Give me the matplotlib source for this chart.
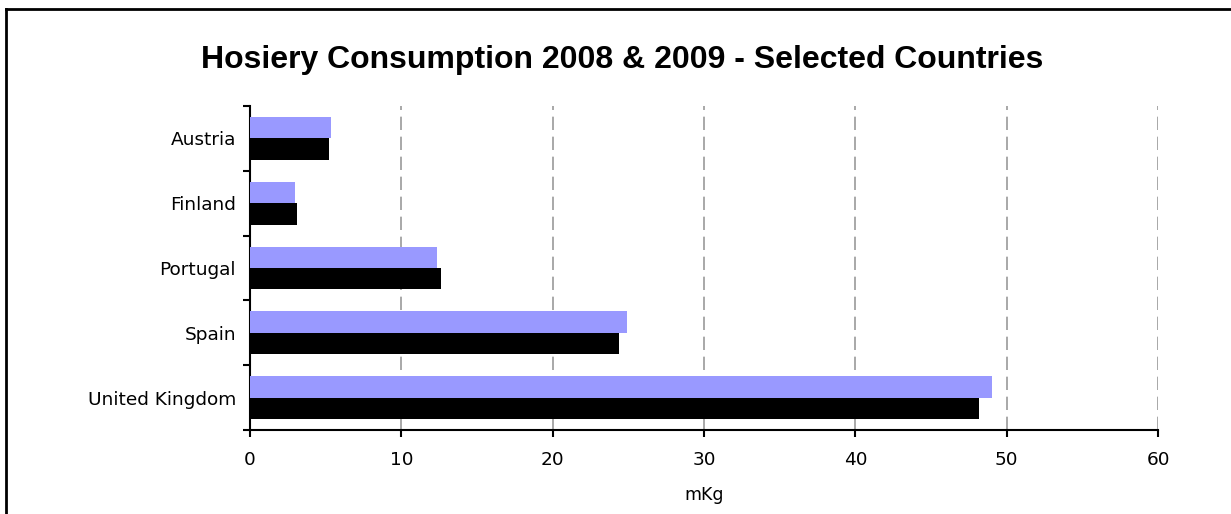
import matplotlib.pyplot as plt
import numpy as np

countries = ['Austria', 'Finland', 'Portugal', 'Spain', 'United Kingdom']
values_2009 = [5.35, 3.0, 12.35, 24.9, 49.0]   # light purple bars (top)
values_2008 = [5.2, 3.1, 12.6, 24.4, 48.2]     # black bars (bottom)

fig = plt.figure(figsize=(12.31, 5.14), dpi=100)
ax = fig.add_axes([250 / 1231, 1 - 430 / 514, 908 / 1231, 324 / 514])

y = np.arange(len(countries))
h = 0.33
ax.barh(y - h / 2, values_2009, height=h, color='#9999FF', zorder=3)
ax.barh(y + h / 2, values_2008, height=h, color='black', zorder=3)

ax.set_xlim(0, 60)
ax.set_ylim(len(countries) - 0.5, -0.5)
ax.set_xticks(range(0, 61, 10))
ax.set_yticks(y)
ax.set_yticklabels(countries)
ax.set_yticks(np.arange(-0.5, len(countries), 1), minor=True)
ax.tick_params(axis='y', which='major', length=0, pad=10, labelsize=13.3)
ax.tick_params(axis='y', which='minor', length=5, width=1.5, direction='out')
ax.tick_params(axis='x', length=5, width=1.5, direction='out', pad=10, labelsize=13.3)

ax.xaxis.grid(True, color='#999999', linestyle=(0, (8, 4)), linewidth=1.2, zorder=0)
for s in ['top', 'right']:
    ax.spines[s].set_visible(False)
for s in ['left', 'bottom']:
    ax.spines[s].set_linewidth(1.5)

ax.set_xlabel('mKg', fontsize=12.5, labelpad=12)
fig.text(622 / 1231, 1 - 60 / 514, 'Hosiery Consumption 2008 & 2009 - Selected Countries',
         ha='center', va='center', fontsize=23, fontweight='bold', family='Liberation Sans')

# outer chart frame (top and left edges visible only)
fig.add_artist(plt.Line2D([6 / 1231, 1], [1 - 9 / 514, 1 - 9 / 514], color='black', linewidth=2))
fig.add_artist(plt.Line2D([6 / 1231, 6 / 1231], [0, 1 - 9 / 514], color='black', linewidth=2))

plt.savefig('out.png')
